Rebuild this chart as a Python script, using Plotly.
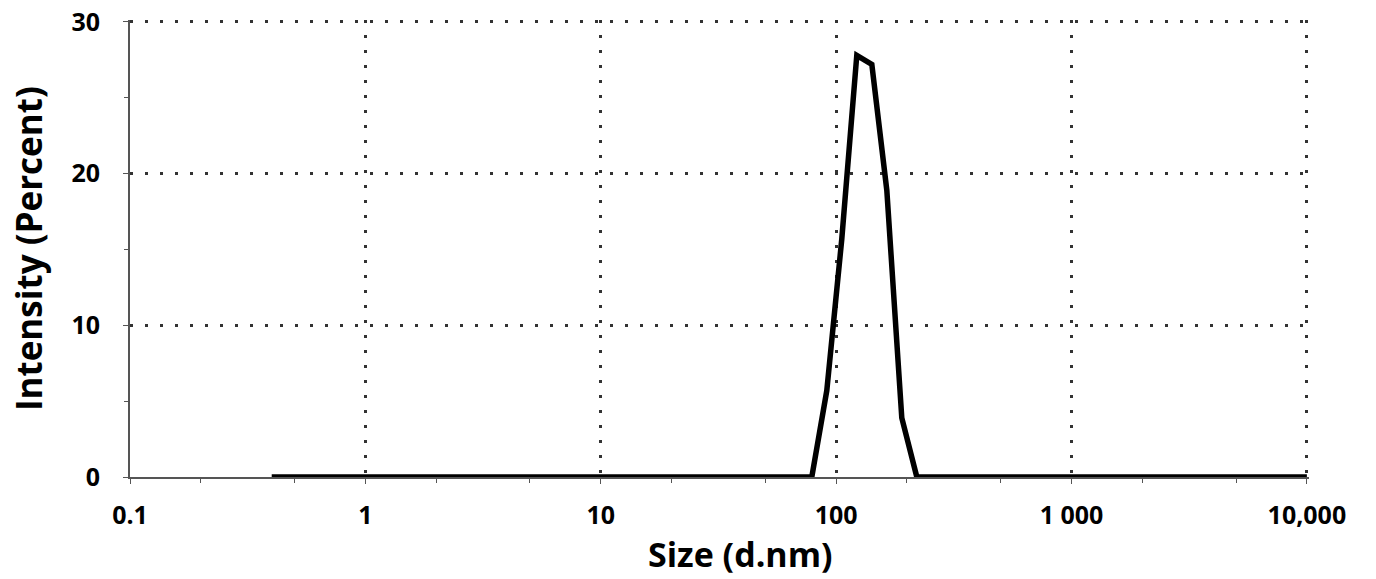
import plotly.graph_objects as go

sizes_nm = [0.4, 0.4632, 0.5365, 0.6213, 0.7195, 0.8332, 0.9649, 1.117, 1.294, 1.499,
            1.736, 2.01, 2.328, 2.696, 3.122, 3.615, 4.187, 4.849, 5.615, 6.503,
            7.531, 8.721, 10.1, 11.7, 13.54, 15.69, 18.17, 21.04, 24.36, 28.21,
            32.67, 37.84, 43.82, 50.75, 58.77, 68.06, 78.82, 91.28, 105.7, 122.4,
            141.8, 164.2, 190.1, 220.2, 255.0, 295.3, 342.0, 396.1, 458.7, 531.2,
            615.1, 712.4, 825.0, 955.4, 1106, 1281, 1484, 1718, 1990, 2305,
            2669, 3091, 3580, 4145, 4801, 5560, 6439, 7456, 8635, 10000]
intensity_pct = [0, 0, 0, 0, 0, 0, 0, 0, 0, 0,
                 0, 0, 0, 0, 0, 0, 0, 0, 0, 0,
                 0, 0, 0, 0, 0, 0, 0, 0, 0, 0,
                 0, 0, 0, 0, 0, 0, 0, 5.7, 15.7, 27.8,
                 27.2, 18.9, 3.9, 0, 0, 0, 0, 0, 0, 0,
                 0, 0, 0, 0, 0, 0, 0, 0, 0, 0,
                 0, 0, 0, 0, 0, 0, 0, 0, 0, 0]

x_tick_vals = [0.1, 1, 10, 100, 1000, 10000]
x_tick_text = ["0.1", "1", "10", "100", "1 000", "10,000"]
y_tick_vals = [0, 10, 20, 30]

FONT = "Open Sans"
GRID = dict(showgrid=True, gridcolor="#333", griddash="3px,12px", gridwidth=3)

fig = go.Figure()
fig.add_trace(go.Scatter(x=sizes_nm, y=intensity_pct, mode="lines",
                         line=dict(color="black", width=5.5), showlegend=False))

fig.update_layout(
    width=1376, height=579,
    margin=dict(l=130, r=67, t=20, b=102),
    paper_bgcolor="white", plot_bgcolor="white",
    font=dict(family=FONT, color="black"),
    xaxis=dict(type="log", range=[-1, 4.009], tickvals=x_tick_vals, ticktext=x_tick_text,
               tickfont=dict(family=FONT, size=25, color="black", weight="bold"),
               showline=True, linecolor="#555", linewidth=2, automargin=False,
               ticks="outside", ticklen=5, tickcolor="#555", ticklabelstandoff=10,
               minor=dict(ticks="outside", ticklen=4, tickcolor="#555", showgrid=False),
               zeroline=False, **GRID),
    yaxis=dict(range=[0, 30.13], tickvals=y_tick_vals,
               tickfont=dict(family=FONT, size=25, color="black", weight="bold"),
               showline=True, linecolor="#555", linewidth=2, automargin=False,
               ticks="outside", ticklen=5, tickcolor="#555", ticklabelstandoff=18,
               minor=dict(ticks="outside", ticklen=4, tickcolor="#555", dtick=5, showgrid=False),
               zeroline=False, **GRID),
    annotations=[
        dict(text="Size (d.nm)", xref="paper", yref="paper", x=0.518, y=-0.168,
             xanchor="center", yanchor="middle", showarrow=False,
             font=dict(family=FONT, size=34, color="black", weight="bold")),
        dict(text="Intensity (Percent)", xref="paper", yref="paper", x=-0.086, y=0.50,
             xanchor="center", yanchor="middle", showarrow=False, textangle=-90,
             font=dict(family=FONT, size=35, color="black", weight="bold")),
    ],
)

fig.write_html("out.html", config={"displayModeBar": False},
               post_script="document.body.style.margin='0';")
